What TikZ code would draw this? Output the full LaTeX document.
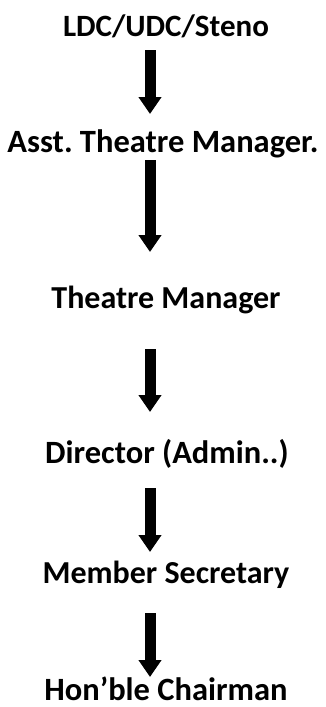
\documentclass[tikz,border=0pt]{standalone}
\usepackage{fontspec}
\setmainfont{Carlito}
\frenchspacing
\usetikzlibrary{arrows.meta}

\tikzset{
    post/.style={inner sep=0pt, anchor=base, font=\bfseries\fontsize{#1}{#1}\selectfont},
    flow/.style={line width=11pt, -{Triangle[width=22pt, length=17pt]}}
}

\begin{document}
\begin{tikzpicture}[x=1pt, y=-1pt]
    \useasboundingbox (0,0) rectangle (326,707);

    % POSTS
    \node[post=31] (clerk) at (166,36) {LDC/UDC/Steno};
    \node[post=32.5] (atm) at (163,152) {Asst. Theatre Manager.};
    \node[post=32] (tm) at (166,308) {Theatre Manager};
    \node[post=32.5] (dir) at (167,463) {Director (Admin..)};
    \node[post=32] (ms) at (166,583) {Member Secretary};
    \node[post=32.5] (chair) at (166,700) {Hon’ble Chairman};

    % ARROWS
    \draw[flow, shorten <=14pt, shorten >=38pt] ([xshift=-16pt]clerk.base) -- ([xshift=-13pt]atm.base);
    \draw[flow, shorten <=8pt, shorten >=56pt] ([xshift=-13pt]atm.base) -- ([xshift=-16pt]tm.base);
    \draw[flow, shorten <=41pt, shorten >=51pt] ([xshift=-16pt]tm.base) -- ([xshift=-17pt]dir.base);
    \draw[flow, shorten <=25pt, shorten >=31pt] ([xshift=-17pt]dir.base) -- ([xshift=-16pt]ms.base);
    \draw[flow, shorten <=30pt, shorten >=23pt] ([xshift=-16pt]ms.base) -- ([xshift=-16pt]chair.base);
\end{tikzpicture}
\end{document}
